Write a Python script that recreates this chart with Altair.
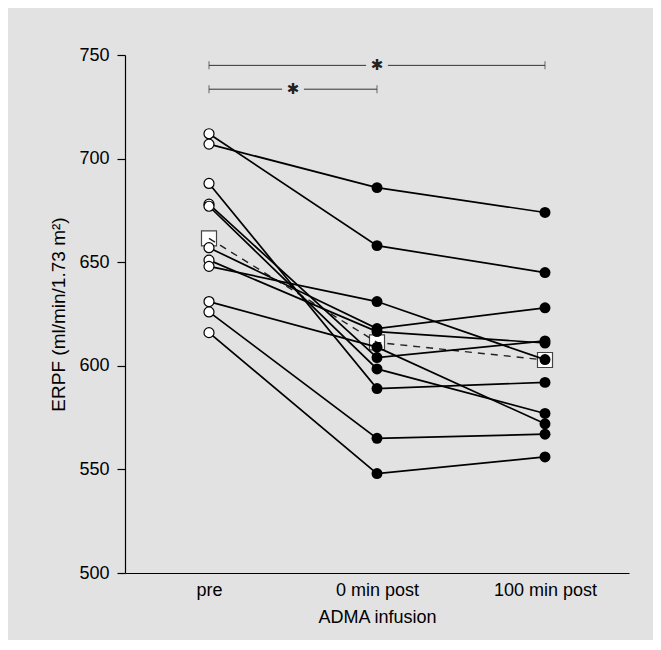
import json
import altair as alt
import pandas as pd

# ---- data ----
categories = ["pre", "0 min post", "100 min post"]
erpf_pre = [712, 707, 688, 678, 677, 657, 651, 648, 631, 626, 616]
erpf_0min = [658, 686, 589, 604, 598.5, 618, 616.5, 631, 609, 565, 548]
erpf_100min = [645, 674, 592, 612, 577, 628, 611, 603, 572, 567, 556]
mean_values = [661.5, 611.3, 602.8]

bracket_start = [0, 0]
bracket_end = [2, 1]
bracket_level = [745, 733.5]
bracket_label = ["\u2731", "\u2731"]
y_ticks = [500, 550, 600, 650, 700, 750]

# ---- tables ----
rows = []
for i, vals in enumerate(zip(erpf_pre, erpf_0min, erpf_100min)):
    for t, v in enumerate(vals):
        rows.append({"subject": i, "t": t, "erpf": v})
df = pd.DataFrame(rows)
mean_df = pd.DataFrame({"t": list(range(len(categories))), "erpf": mean_values})

gap = 0.065
seg_rows, tick_rows, star_rows = [], [], []
for s, e, lvl, lab in zip(bracket_start, bracket_end, bracket_level, bracket_label):
    mid = (s + e) / 2
    seg_rows += [{"t": s, "t2": mid - gap, "erpf": lvl}, {"t": mid + gap, "t2": e, "erpf": lvl}]
    tick_rows += [{"t": s, "erpf": lvl}, {"t": e, "erpf": lvl}]
    star_rows.append({"t": mid, "erpf": lvl, "label": lab})
seg_df = pd.DataFrame(seg_rows)
tick_df = pd.DataFrame(tick_rows)
star_df = pd.DataFrame(star_rows)

xscale = alt.Scale(domain=[-0.5, 2.5], nice=False, zero=False)
yscale = alt.Scale(domain=[500, 750], nice=False, zero=False)
label_expr = json.dumps(categories) + "[datum.value]"

x_axis = alt.Axis(values=[0, 1, 2], labelExpr=label_expr, ticks=False, tickSize=0,
                  labelPadding=8, title="ADMA infusion", titlePadding=9, grid=False)
y_axis = alt.Axis(values=y_ticks, tickSize=8, labelPadding=8, title="ERPF (ml/min/1.73 m\u00b2)",
                  titlePadding=10, titleFontSize=19, grid=False)

X = alt.X("t:Q", scale=xscale, axis=x_axis)
Y = alt.Y("erpf:Q", scale=yscale, axis=y_axis)

means = alt.Chart(mean_df).mark_point(shape="square", filled=True, fill="white",
                                       stroke="#444", strokeWidth=1.2, size=225, opacity=1).encode(x=X, y=Y)
mean_line = alt.Chart(mean_df).mark_line(color="#222", strokeWidth=1.4, strokeDash=[7, 6]).encode(x=X, y=Y)
lines = alt.Chart(df).mark_line(color="black", strokeWidth=1.7).encode(x=X, y=Y, detail="subject:N")
open_pts = alt.Chart(df).transform_filter("datum.t == 0").mark_point(
    shape="circle", filled=True, fill="white", stroke="black", strokeWidth=1.2, size=100, opacity=1
).encode(x=X, y=Y)
solid_pts = alt.Chart(df).transform_filter("datum.t > 0").mark_point(
    shape="circle", filled=True, fill="black", size=120, opacity=1
).encode(x=X, y=Y)
segs = alt.Chart(seg_df).mark_rule(color="#333", strokeWidth=1).encode(x=X, x2="t2:Q", y=Y)
ticks = alt.Chart(tick_df).mark_tick(orient="vertical", size=8, thickness=1, color="#333").encode(x=X, y=Y)
stars = alt.Chart(star_df).mark_text(font="DejaVu Sans", fontSize=15, baseline="middle",
                                     align="center", color="#222").encode(x=X, y=Y, text="label:N")

chart = alt.layer(means, mean_line, lines, open_pts, solid_pts, segs, ticks, stars).properties(
    width=504, height=518,
    autosize=alt.AutoSizeParams(type="none"),
    padding={"left": 117, "top": 47, "right": 24, "bottom": 67},
    background="#e2e2e2",
).configure_view(stroke=None).configure_axis(
    labelFont="Liberation Sans", titleFont="Liberation Sans",
    labelFontSize=18, titleFontSize=18, titleFontWeight="normal",
    labelColor="black", titleColor="black", domainColor="black", tickColor="black",
    domainWidth=1.2, tickWidth=1.2,
)

chart.save("out.html", embed_options={"renderer": "svg", "actions": False})
